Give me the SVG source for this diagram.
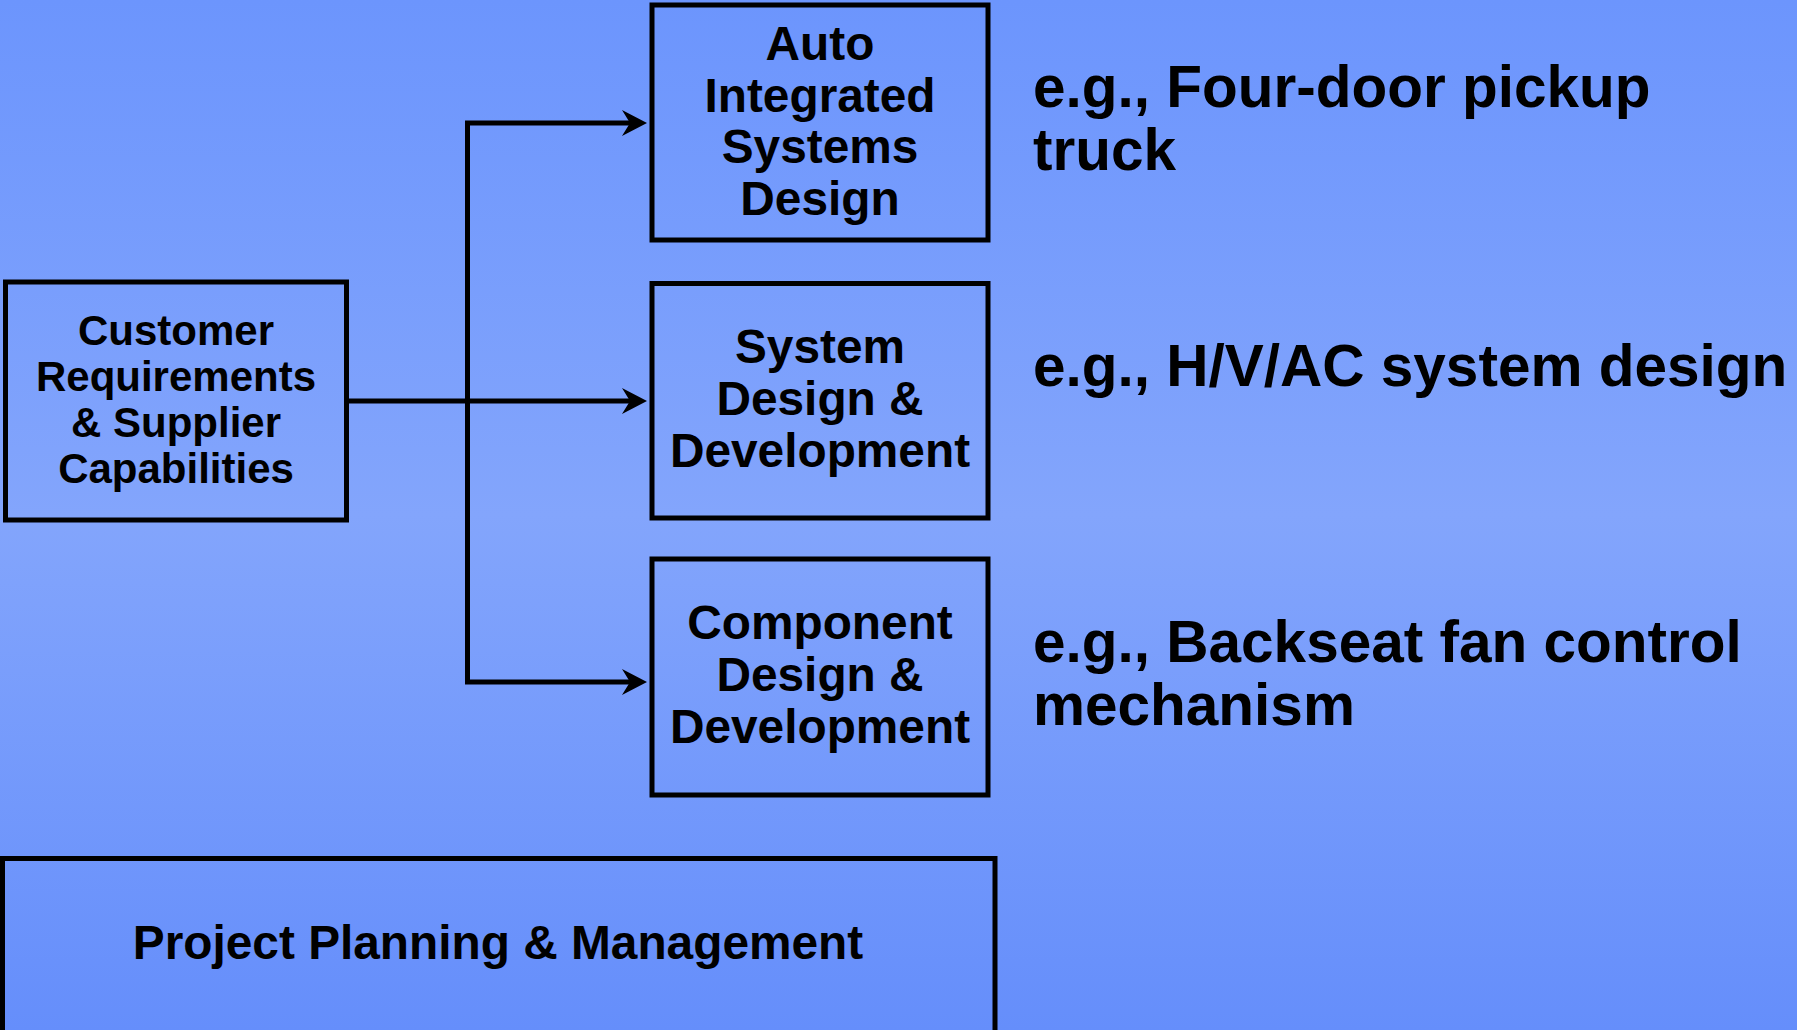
<svg xmlns="http://www.w3.org/2000/svg" width="1797" height="1030" viewBox="0 0 1797 1030">
  <defs>
    <linearGradient id="bg" x1="0" y1="0" x2="0" y2="1">
      <stop offset="0" stop-color="#6C95FD"/>
      <stop offset="0.5" stop-color="#83A5FC"/>
      <stop offset="1" stop-color="#658EFB"/>
    </linearGradient>
    <marker id="arrow" markerUnits="userSpaceOnUse" markerWidth="30" markerHeight="30" viewBox="0 0 30 30" refX="8" refY="13" orient="auto-start-reverse">
      <path d="M0,0 L25,13 L0,26 L8,13 Z" fill="#000"/>
    </marker>
    <style>
      .box { fill: none; stroke: #000; stroke-width: 5; }
      .conn { fill: none; stroke: #000; stroke-width: 5; stroke-linejoin: miter; stroke-linecap: butt; }
      .t { font-family: "Liberation Sans", Arial, sans-serif; font-weight: bold; fill: #000; }
      .bx { font-size: 47.8px; text-anchor: middle; }
      .cust { font-size: 42px; text-anchor: middle; }
      .ex { font-size: 58.5px; }
    </style>
  </defs>

  <rect x="0" y="0" width="1797" height="1030" fill="url(#bg)"/>

  <g id="connectors">
    <path class="conn" d="M630,123 H467.5 V682 H630" marker-start="url(#arrow)" marker-end="url(#arrow)"/>
    <path class="conn" d="M348,401 H630" marker-end="url(#arrow)"/>
  </g>

  <g id="customer">
    <rect class="box" x="5.5" y="282" width="341" height="238"/>
    <text class="t cust" x="176" y="345">Customer</text>
    <text class="t cust" x="176" y="391">Requirements</text>
    <text class="t cust" x="176" y="437">&amp; Supplier</text>
    <text class="t cust" x="176" y="483">Capabilities</text>
  </g>

  <g id="auto">
    <rect class="box" x="652" y="5" width="336" height="235"/>
    <text class="t bx" x="820" y="60">Auto</text>
    <text class="t bx" x="820" y="111.5">Integrated</text>
    <text class="t bx" x="820" y="163">Systems</text>
    <text class="t bx" x="820" y="214.5">Design</text>
  </g>

  <g id="system">
    <rect class="box" x="652" y="283.5" width="336" height="234.5"/>
    <text class="t bx" x="820" y="363">System</text>
    <text class="t bx" x="820" y="415">Design &amp;</text>
    <text class="t bx" x="820" y="467">Development</text>
  </g>

  <g id="component">
    <rect class="box" x="652" y="559" width="336" height="236"/>
    <text class="t bx" x="820" y="639">Component</text>
    <text class="t bx" x="820" y="691">Design &amp;</text>
    <text class="t bx" x="820" y="743">Development</text>
  </g>

  <g id="project">
    <rect class="box" x="2.5" y="858.5" width="992.5" height="190"/>
    <text class="t bx" x="498" y="959">Project Planning &amp; Management</text>
  </g>

  <g id="example-auto">
    <text class="t ex" x="1033" y="107">e.g., Four-door pickup</text>
    <text class="t ex" x="1033" y="170">truck</text>
  </g>

  <g id="example-system">
    <text class="t ex" x="1033" y="386">e.g., H/V/AC system design</text>
  </g>

  <g id="example-component">
    <text class="t ex" x="1033" y="662">e.g., Backseat fan control</text>
    <text class="t ex" x="1033" y="725">mechanism</text>
  </g>
</svg>
